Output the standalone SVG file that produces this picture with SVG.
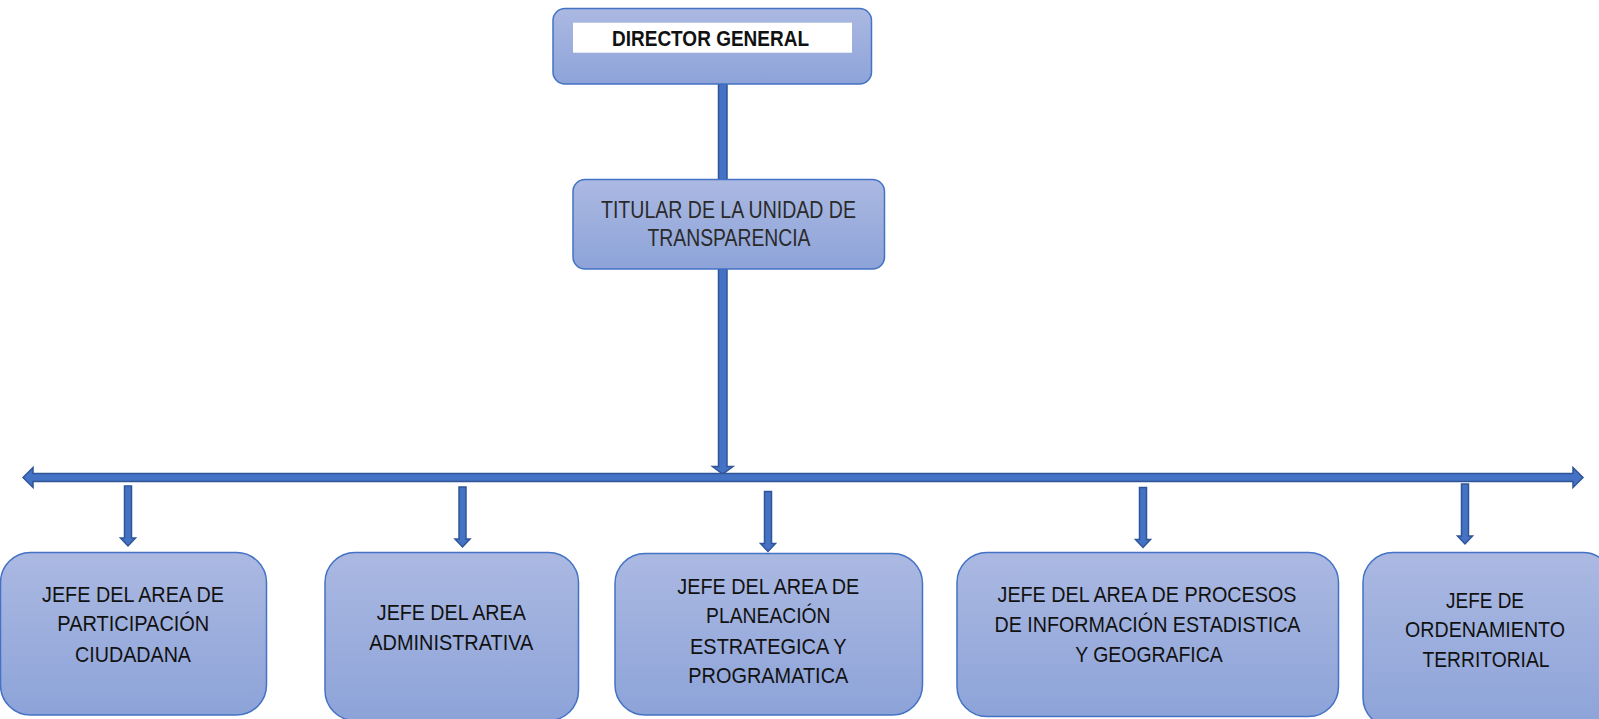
<svg xmlns="http://www.w3.org/2000/svg" xmlns:xlink="http://www.w3.org/1999/xlink" width="1599" height="719" viewBox="0 0 1599 719">
<style>
.box{fill:url(#g);stroke:#4472C4;stroke-width:1.5}
.t{font-family:"Liberation Sans",Arial,sans-serif;font-size:22.5px;fill:#111;text-anchor:middle}
.tg{fill:#2a2a2a;font-size:23px}
.b{font-weight:bold;font-size:22.5px}
.arr{fill:#4472C4;stroke:#2F5597;stroke-width:1.5}
</style>
<defs>
<linearGradient id="g" x1="0" y1="0" x2="0" y2="1">
<stop offset="0" stop-color="#ABB9E2"/>
<stop offset="1" stop-color="#8DA3D8"/>
</linearGradient>
<path id="dn" d="M-3.5,0 H3.5 V52 H7.5 L0,60 L-7.5,52 H-3.5 Z"/>
</defs>
<rect width="1599" height="719" fill="#fff"/>
<g id="connectors">
<rect class="arr" x="718.5" y="84" width="8.5" height="96"/>
<path class="arr" d="M718.5,269 H727 V466.5 H733 L722.7,474 L712.5,466.5 H718.5 Z"/>
<path class="arr" d="M23,477.5 L33,467.5 V473.5 H1573 V467.5 L1583,477.5 L1573,487.5 V481.5 H33 V487.5 Z"/>
<use class="arr" xlink:href="#dn" href="#dn" x="128" y="486"/>
<use class="arr" xlink:href="#dn" href="#dn" x="462.5" y="487"/>
<use class="arr" xlink:href="#dn" href="#dn" x="768" y="491.5"/>
<use class="arr" xlink:href="#dn" href="#dn" x="1143" y="487.5"/>
<use class="arr" xlink:href="#dn" href="#dn" x="1465" y="484"/>
</g>
<g id="director">
<rect class="box" x="553" y="8.5" width="318.5" height="75.5" rx="12"/>
<rect x="573" y="22.7" width="279" height="30" fill="#fff"/>
<text class="t b" x="710.5" y="45.5" textLength="197" lengthAdjust="spacingAndGlyphs">DIRECTOR GENERAL</text>
</g>
<g id="titular">
<rect class="box" x="573" y="179.5" width="311.5" height="89.5" rx="12"/>
<text class="t tg" x="728.5" y="217.5" textLength="255" lengthAdjust="spacingAndGlyphs">TITULAR DE LA UNIDAD DE</text>
<text class="t tg" x="729" y="246" textLength="163" lengthAdjust="spacingAndGlyphs">TRANSPARENCIA</text>
</g>
<g id="participacion">
<rect class="box" x="0.5" y="552.5" width="266" height="162.5" rx="30"/>
<text class="t" x="133" y="601.5" textLength="182" lengthAdjust="spacingAndGlyphs">JEFE DEL AREA DE</text>
<text class="t" x="133.3" y="630.5" textLength="152" lengthAdjust="spacingAndGlyphs">PARTICIPACIÓN</text>
<text class="t" x="133" y="661.5" textLength="116" lengthAdjust="spacingAndGlyphs">CIUDADANA</text>
</g>
<g id="administrativa">
<rect class="box" x="325" y="552.5" width="253.5" height="168" rx="30"/>
<text class="t" x="451.3" y="620" textLength="149" lengthAdjust="spacingAndGlyphs">JEFE DEL AREA</text>
<text class="t" x="451.3" y="650" textLength="164" lengthAdjust="spacingAndGlyphs">ADMINISTRATIVA</text>
</g>
<g id="planeacion">
<rect class="box" x="615" y="553.5" width="307.5" height="161.5" rx="30"/>
<text class="t" x="768.3" y="593.5" textLength="182" lengthAdjust="spacingAndGlyphs">JEFE DEL AREA DE</text>
<text class="t" x="768.3" y="623.3" textLength="124.5" lengthAdjust="spacingAndGlyphs">PLANEACIÓN</text>
<text class="t" x="768.3" y="653.5" textLength="156.5" lengthAdjust="spacingAndGlyphs">ESTRATEGICA Y</text>
<text class="t" x="768.3" y="682.5" textLength="160" lengthAdjust="spacingAndGlyphs">PROGRAMATICA</text>
</g>
<g id="procesos">
<rect class="box" x="957" y="552.5" width="381.5" height="164" rx="30"/>
<text class="t" x="1147" y="601.5" textLength="299" lengthAdjust="spacingAndGlyphs">JEFE DEL AREA DE PROCESOS</text>
<text class="t" x="1147.5" y="631.5" textLength="306" lengthAdjust="spacingAndGlyphs">DE INFORMACIÓN ESTADISTICA</text>
<text class="t" x="1149" y="661.5" textLength="147.5" lengthAdjust="spacingAndGlyphs">Y GEOGRAFICA</text>
</g>
<g id="ordenamiento">
<rect class="box" x="1363" y="552.5" width="250" height="175" rx="30"/>
<text class="t" x="1485" y="607.5" textLength="78" lengthAdjust="spacingAndGlyphs">JEFE DE</text>
<text class="t" x="1485" y="636.5" textLength="160" lengthAdjust="spacingAndGlyphs">ORDENAMIENTO</text>
<text class="t" x="1486" y="666.5" textLength="127" lengthAdjust="spacingAndGlyphs">TERRITORIAL</text>
</g>
</svg>
